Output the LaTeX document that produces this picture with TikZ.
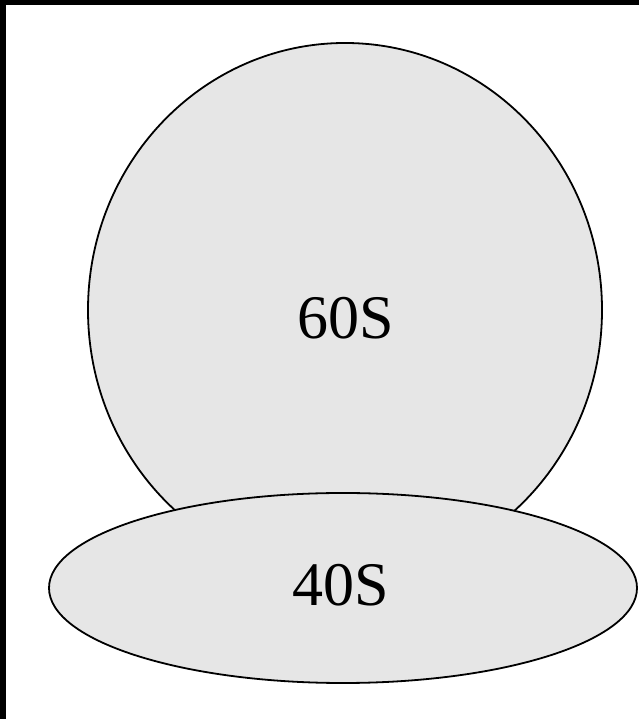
\documentclass[tikz,border=0pt]{standalone}
\usepackage{fontspec}
\setmainfont{Liberation Serif}
\begin{document}
\begin{tikzpicture}[x=1pt,y=1pt,
  sub/.style={draw=black,line width=1.8pt,fill=lightfill},
  lbl/.style={font=\fontsize{62}{62}\selectfont,inner sep=0pt}]
\definecolor{lightfill}{HTML}{E6E6E6}
\useasboundingbox (0,0) rectangle (639,719);
\fill[white] (0,0) rectangle (639,719);
\fill[black] (0,714) rectangle (639,719);
\fill[black] (0,0) rectangle (6,719);
\path[sub] (345,409) ellipse [x radius=257, y radius=267];
\path[sub] (343,131) ellipse [x radius=294, y radius=95];
\node[lbl] (big) at (346,401) {60S};
\node[lbl] (small) at (341,134) {40S};
\end{tikzpicture}
\end{document}
